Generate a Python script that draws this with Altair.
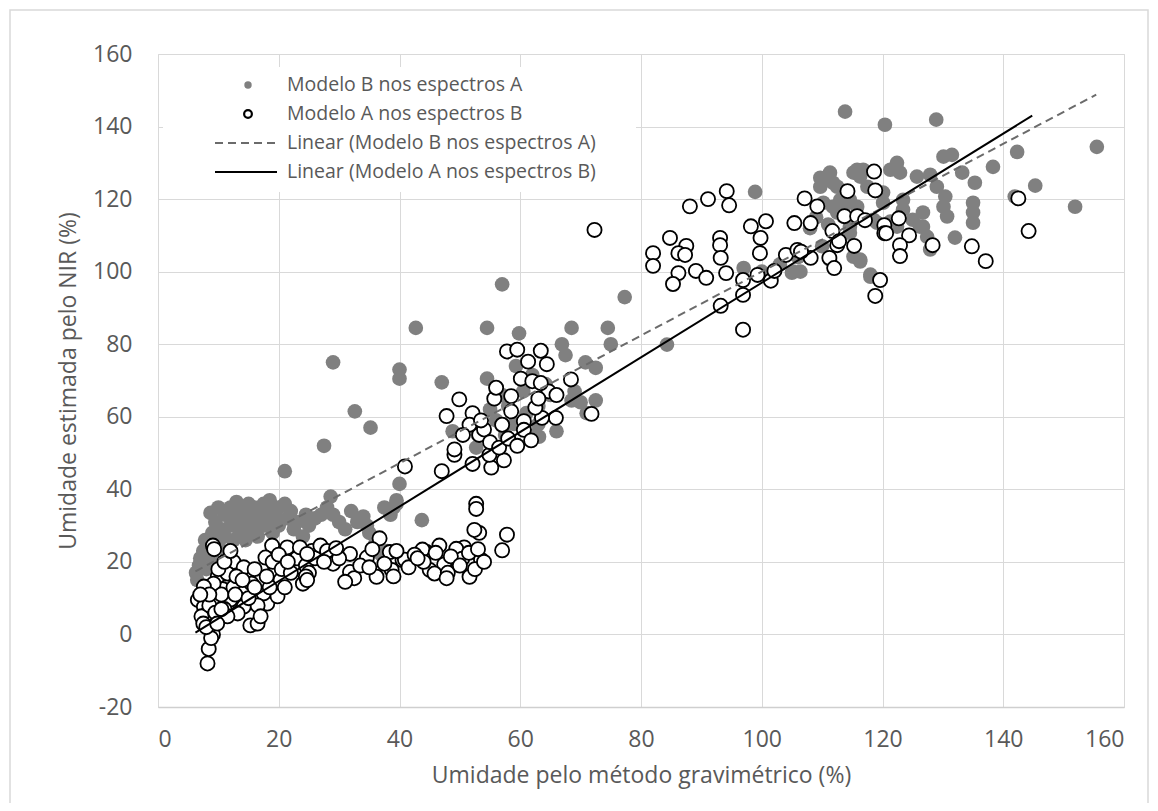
import altair as alt
import pandas as pd

FONT = "Open Sans"
TXT = "#595959"
GRID = "#d9d9d9"

# ---- data ----
modelo_b_pts = [
    (6.3,17),(6.5,15),(6.8,19),(7,21),(7.5,23),(7.8,26),(8,18),(8.5,24),(8.7,33.5),(9,28),(9,21),
    (9.5,31),(10,35),(10,25),(10.5,29),(11,33),(11,27),(11.5,22),(12,35),(12,30),(12.5,26),(13,36.5),
    (13,32),(13.5,28),(14,34),(14,30),(14.5,26),(15,36),(15,32),(15.5,29),(16,35),(16,31),(16.5,27),
    (17,33),(17.5,36),(17.5,30),(18,34),(18.5,37),(18.5,31),(19,28),(19.5,33),(20,35),(20,30),(21,36),
    (21,45),(21.5,32),(22,34),(22.5,29),(23,31),(24,27),(24.5,33),(25,30),(26,32),(27,33),(27.5,52),
    (28,35),(28.6,38),(29,75),(29,33),(30,31),(31,29),(32,34),(32.6,61.5),(33,31),(34,32.5),(34.6,30),
    (35.2,57),(35,28),(36,25),(37,22),(37.5,35),(38,23),(38.5,33),(39,35),(39.5,37),(40,41.5),(39.5,36),
    (40,70.5),(40,73),(42.7,84.5),(43.7,31.5),(47,69.5),(48.8,56),(52.7,51.5),(54.5,84.5),(57,96.5),
    (59.8,83),(55,62),(56,59),(58,63),(53,55),(57.5,55),(62.5,55),(54.5,70.5),(59.3,74),(62,71.5),
    (64.2,69),(60.5,67),(57,66),(59,58),(61,61),(63,63),(65,66),(66.9,80),(67.5,77),(68.5,84.5),
    (70.8,75),(72.5,73.5),(74.5,84.5),(75,80),(77.3,93),(68.5,64.5),(70,64),(72.5,64.5),(69,67),
    (71,61),(66,56),(63,58),(63.1,54.5),(84.3,79.9),(98.9,122),(105.2,100),(106.4,100),(105,99.7),
    (113.8,144.1),(120.4,140.5),(128.9,141.9),(142.3,133),(155.5,134.4),(145.3,123.7),(138.3,128.9),
    (151.9,117.9),(141.9,120.7),(135.3,124.5),(133.2,127.3),(131.5,132.2),(130.1,131.7),(135,119),
    (135,116.3),(135,113.5),(132,109.4),(127.9,106.1),(122.4,130),(121.3,128.1),(125.7,126.2),
    (127.9,126.7),(129,123.4),(130.4,120.7),(130.1,117.9),(130.7,115.2),(126.7,116.3),(126.7,112.4),
    (123.4,119.8),(123.4,117.1),(120.1,121.8),(120.1,119),(117.5,123.4),(115.8,128.1),(116.3,126.2),
    (114.6,119.8),(115.8,117.9),(113.5,117.9),(111.3,127.3),(109.7,125.9),(113,119.8),(112.5,116.3),
    (114.6,112.4),(116.3,103.3),(118,99.2),(121.3,113.8),(122.4,112.4),(125,114.3),(127.4,109.6),
    (119.1,113.5),(113.5,115.2),(122.9,127.3),(126.2,112.4),(113,108.8),(115.2,104.1),(111.3,103.3),
    (116.3,102.8),(112.5,123.4),(115.2,127.3),(116.8,128.1),(110.2,119),(111.8,117.9),(114.2,119),
    (114.6,110.7),(108,112),(110,107),(106,104),(109,115),(111,113),(109.7,123.4),(111.8,124.5),
    (118.5,114.3),(118,98.6),(100,100),(103,102),(97,101),
]

modelo_a_pts = [
    (9.1,24.5),(9.3,23.5),(6.6,9.5),(8.2,-8),(8.4,-4),(9.1,0),(8.8,-1),(9.9,4),(10.7,12.5),(9.9,16),
    (12.5,20),(14.2,18.5),(18.9,24.5),(17.8,21.2),(17,15),(13.7,9.5),(15.3,2.5),(16.5,3),(19.4,17.8),
    (20.3,15),(18.1,8.5),(22.4,22.7),(21.4,24),(24,14),(23.1,18.6),(7.6,7.6),(8.7,6.8),(8.2,5.8),
    (11.5,16.8),(9.2,14),(7.6,13.2),(12,9.6),(14.2,7.7),(13.2,5.8),(9.9,9.6),(17.5,11.3),(19.8,10.5),
    (7.2,5),(7.5,3),(8,2),(8.5,8),(9.5,6),(10.5,11),(11,7),(11.5,5),(12.5,13),(13,16),(14.5,12),
    (15.5,14),(16,18),(16.5,8),(17,5),(18.5,13),(19,20),(20.5,18),(21,13),(22,17),(23,21),(24.5,19),
    (25.5,23),(26,21),(25,17),(10,18),(11,20),(12,23),(8.5,11),(7,11),(9.8,3),(10.5,7),(12.8,11),
    (14,15),(15,10),(16,13),(18,16),(20,22),(21.5,20),(23.5,24),(24.5,16),
    (26.9,24.5),(24.7,22.2),(24.7,15),(29,19.5),(31.8,22.2),(31.8,17.2),(34.6,21.2),(36.7,26.5),
    (38.4,22.7),(40.5,20.5),(36.2,15.9),(38.7,17.8),(44.5,22.7),(46.6,24.5),(45,17.8),(47.4,19.3),
    (51.6,15.9),(50.7,24),(43.8,23.4),(40.9,20.6),(45.8,16.8),(49.4,23.6),(50.4,20.9),(53.5,20.6),
    (28,23),(30,21),(32.5,15.5),(33.5,19),(35.5,23.5),(37.5,19.5),(39.5,23),(41.5,18.5),(42.5,22),
    (44,20),(46,22.5),(48,17),(48.5,21.5),(50,19),(51.5,22.5),(52.5,18),(27.5,20),(29.5,23.8),
    (31,14.5),(35,18.5),(39,16),(43,21),(47.8,15.5),(53,23.5),(54,20),(57.8,27.5),(57,23.2),
    (53.2,28),(52.7,36),(52.7,34.6),(52.4,28.8),
    (40.9,46.3),(47,45),(49.1,49.5),(49.1,51),(47.8,60.2),(49.9,64.8),(52.1,61),(52.1,47),(55.2,46),
    (54.9,49.5),(57.3,48),(53.2,55),(51.6,57.8),(57,57.8),(55.7,65),(56,68),(58.5,65.7),(57.8,78),
    (59.5,78.5),(61.3,75.2),(63.4,78.2),(64.4,74.5),(68.4,70.3),(60.1,70.5),(62,69.8),(64.7,67),
    (63.4,69.3),(71.8,60.8),(65.9,59.7),(60.6,58.8),(60.6,56.4),(63.6,59.7),(61.8,53.5),(54,56.5),
    (55,53),(56.5,51.5),(58,54),(59.5,52),(58.5,61.5),(53.5,59),(62.5,62.5),(63,65),(66,66),(50.5,55),
    (72.3,111.5),
    (88.1,118),(91.1,120),(94.2,122.2),(94.6,118.3),(84.8,109.3),(87.5,107.1),(86.2,105.1),(87.3,104.6),
    (82,105.1),(82,101.6),(86.2,99.6),(85.3,96.6),(89.1,100.2),(90.8,98.3),(93.1,109.3),(93.1,107.3),
    (93.2,103.8),(94.1,99.6),(96.9,97.7),(96.9,93.6),(93.2,90.6),(96.9,84),(98.2,112.5),(100.7,113.9),
    (99.8,109.3),(99.7,105.1),(99.3,99.1),(101.5,97.5),(102.1,100.2),(107.1,120.2),(109.2,118),
    (105.4,113.4),(108.1,113.4),(104,104.6),(105.9,106),(108.1,103.8),(106.5,105.5),(111.7,111.2),
    (112.5,107.3),(111.2,103.8),(112,101),(114.2,122.2),(118.8,122.4),(118.6,127.6),(113.7,115.3),
    (115.8,115.3),(117.1,114.2),(115.3,107.1),(120.3,112.8),(120.3,110.6),(119.6,97.7),(118.8,93.3),
    (122.7,114.7),(120.6,110.6),(124.4,110),(122.9,107.3),(122.9,104.3),(128.3,107.3),(134.8,107),
    (137.1,102.9),(142.5,120.2),(144.2,111.2),(112.8,108.4),
]

trend_b_x = [6.2, 155.4]
trend_b_y = [17.4, 148.8]
trend_a_x = [6.2, 144.8]
trend_a_y = [0.5, 143.0]

legend_labels = [
    "Modelo B nos espectros A",
    "Modelo A nos espectros B",
    "Linear (Modelo B nos espectros A)",
    "Linear (Modelo A nos espectros B)",
]
x_ticks = list(range(0, 161, 20))
y_ticks = list(range(-20, 161, 20))

df_b = pd.DataFrame(modelo_b_pts, columns=["x", "y"])
df_a = pd.DataFrame(modelo_a_pts, columns=["x", "y"])
df_tb = pd.DataFrame({"x": trend_b_x, "y": trend_b_y})
df_ta = pd.DataFrame({"x": trend_a_x, "y": trend_a_y})

xs = alt.Scale(domain=[0, 160], nice=False, zero=False)
ys = alt.Scale(domain=[-20, 160], nice=False, zero=False)

x_axis = alt.Axis(values=x_ticks, title="Umidade pelo método gravimétrico (%)", grid=True,
                  gridColor=GRID, gridWidth=1, ticks=False, domainColor="#cfcfcf", domainWidth=1.5,
                  labelExpr="'' + datum.value",
                  labelFont=FONT, labelFontSize=23, labelColor=TXT, labelPadding=21,
                  titleFont=FONT, titleFontSize=23, titleColor=TXT, titleFontWeight="normal",
                  titlePadding=13)
y_axis = alt.Axis(values=y_ticks, title="Umidade estimada pelo NIR (%)", grid=True,
                  gridColor=GRID, gridWidth=1, ticks=False, domain=False,
                  labelExpr="'' + datum.value",
                  labelFont=FONT, labelFontSize=23, labelColor=TXT, labelPadding=26,
                  titleFont=FONT, titleFontSize=23, titleColor=TXT, titleFontWeight="normal",
                  titlePadding=12)

pts_b = alt.Chart(df_b).mark_circle(size=215, color="#808080", opacity=1).encode(
    x=alt.X("x:Q", scale=xs, axis=x_axis),
    y=alt.Y("y:Q", scale=ys, axis=y_axis),
)
pts_a = alt.Chart(df_a).mark_point(shape="circle", size=200, filled=True, fill="white",
                                   stroke="black", strokeWidth=1.8, opacity=1).encode(
    x=alt.X("x:Q", scale=xs), y=alt.Y("y:Q", scale=ys)
)
line_b = alt.Chart(df_tb).mark_line(color="#6b6b6b", strokeWidth=2, strokeDash=[8, 5]).encode(
    x=alt.X("x:Q", scale=xs), y=alt.Y("y:Q", scale=ys)
)
line_a = alt.Chart(df_ta).mark_line(color="black", strokeWidth=2).encode(
    x=alt.X("x:Q", scale=xs), y=alt.Y("y:Q", scale=ys)
)

# chart-area border (decoration)
border = alt.Chart(pd.DataFrame({"k": [0]})).mark_rect(
    fill=None, stroke=GRID, strokeWidth=1.5, clip=False).encode(
    x=alt.value(-148), x2=alt.value(990), y=alt.value(-44), y2=alt.value(752))

# legend (manual, inside top-left)
leg_box = alt.Chart(pd.DataFrame({"k": [0]})).mark_rect(fill="white", stroke=None).encode(
    x=alt.value(5), x2=alt.value(478), y=alt.value(13), y2=alt.value(138))
rows = [31, 60, 89, 118]
leg_items = []
leg_items.append(alt.Chart(pd.DataFrame({"k": [0]})).mark_circle(size=55, color="#808080", opacity=1)
                 .encode(x=alt.value(90), y=alt.value(rows[0])))
leg_items.append(alt.Chart(pd.DataFrame({"k": [0]})).mark_point(shape="circle", size=60, fill="white",
                 filled=True, stroke="black", strokeWidth=2.2, opacity=1)
                 .encode(x=alt.value(90), y=alt.value(rows[1])))
leg_items.append(alt.Chart(pd.DataFrame({"k": [0]})).mark_rule(color="#6b6b6b", strokeWidth=2,
                 strokeDash=[8, 5]).encode(x=alt.value(57), x2=alt.value(117), y=alt.value(rows[2])))
leg_items.append(alt.Chart(pd.DataFrame({"k": [0]})).mark_rule(color="black", strokeWidth=2)
                 .encode(x=alt.value(57), x2=alt.value(119), y=alt.value(rows[3])))
for lab, r in zip(legend_labels, rows):
    leg_items.append(alt.Chart(pd.DataFrame({"t": [lab]})).mark_text(
        align="left", baseline="middle", font=FONT, fontSize=19.5, color=TXT)
        .encode(x=alt.value(129), y=alt.value(r), text="t:N"))

chart = alt.layer(border, pts_b, pts_a, line_b, line_a, leg_box, *leg_items).properties(
    width=966, height=653,
    autosize=alt.AutoSizeParams(type="none"),
    padding={"left": 150, "top": 46, "right": 26, "bottom": 96},
).configure_view(stroke=None).configure(background="white")

chart.save("out.html", embed_options={"renderer": "svg", "actions": False})
